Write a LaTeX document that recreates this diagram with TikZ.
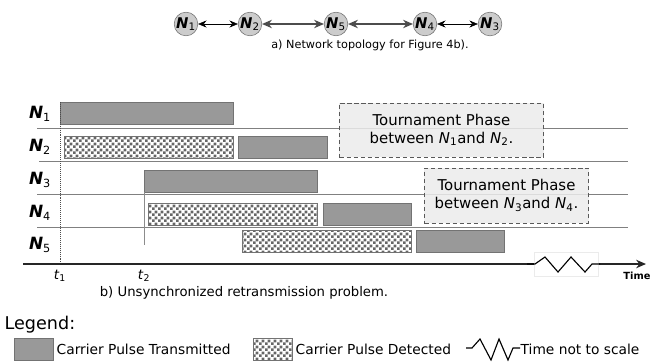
\documentclass[tikz,border=0pt]{standalone}
\usepackage{fontspec}
\setmainfont{DejaVu Sans}
\usetikzlibrary{positioning,calc,arrows.meta,patterns.meta}
\tikzset{font=\small}

\newcommand{\fs}[1]{\fontsize{#1}{1.2\dimexpr#1pt\relax}\selectfont}
\newcommand{\nid}[1]{\textbf{\textit{N}}\textsubscript{\mdseries\upshape #1}}
\newcommand{\nit}[1]{\textit{N}\textsubscript{#1}}

\tikzdeclarepattern{
	name=finecheck, type=uncolored,
	bounding box={(0pt,0pt) and (4pt,4pt)},
	tile size={(4pt,4pt)},
	code={
		\fill (0pt,0pt) rectangle (2pt,2pt);
		\fill (2pt,2pt) rectangle (4pt,4pt);
	}
}

\begin{document}
\begin{tikzpicture}[x=0.025cm, y=-0.025cm]
	\useasboundingbox (0,0) rectangle (651,362);
	\tikzstyle{every node}=[align=center, inner sep=1pt]
	\tikzset{
		topo/.style={circle, draw=black!55, fill=black!20, minimum size=0.58cm, inner sep=0pt, font=\fs{10.5}},
		rowlab/.style={font=\fs{12}},
		thinlink/.style={{Stealth[length=6pt,width=5pt]}-{Stealth[length=6pt,width=5pt]}, black},
		widelink/.style={{Stealth[length=7pt,width=6pt]}-{Stealth[length=7pt,width=6pt]}, black!70, line width=0.9pt},
		txbar/.style={draw=black!55, fill=black!40},
		detbar/.style={draw=black!55, pattern={finecheck}, pattern color=black!60},
		sep/.style={black!50, line width=0.4pt},
		phase/.style={draw=black!65, densely dashed, fill=black!8, fill opacity=0.85, text opacity=1, font=\fs{10.6}},
		zig/.style={black, line width=0.8pt},
		legtext/.style={anchor=west, font=\fs{9.8}}
	}

	% a) topology
	\node[topo] (n1) at (186, 24) {\nid{1}};
	\node[topo] (n2) at (250, 24) {\nid{2}};
	\node[topo] (n5) at (336, 24) {\nid{5}};
	\node[topo] (n4) at (425, 24) {\nid{4}};
	\node[topo] (n3) at (490, 24) {\nid{3}};

	\draw [thinlink] (n1) to (n2);
	\draw [widelink] (n2) to (n5);
	\draw [widelink] (n5) to (n4);
	\draw [thinlink] (n4) to (n3);

	\node[font=\fs{8}] (capa) at (370, 45) {a) Network topology for Figure 4b).};

	% b) timeline
	\node[rowlab] (l1) at (40, 114) {\nid{1}};
	\node[rowlab] (l2) at (40, 147) {\nid{2}};
	\node[rowlab] (l3) at (40, 180) {\nid{3}};
	\node[rowlab] (l4) at (40, 213) {\nid{4}};
	\node[rowlab] (l5) at (40, 245) {\nid{5}};

	\draw [sep] (37, 128) -- (628, 128);
	\draw [sep] (39, 161) -- (628, 161);
	\draw [sep] (37, 194) -- (628, 194);
	\draw [sep] (37, 227) -- (628, 227);

	\node[phase, minimum width=5.1cm, minimum height=1.35cm] (tp1) at (441.5, 130) {Tournament Phase\\between \nit{1}and \nit{2}.};
	\node[phase, minimum width=4.1cm, minimum height=1.375cm] (tp2) at (506.5, 195.5) {Tournament Phase\\between \nit{3}and \nit{4}.};

	\draw [txbar] (60, 102) rectangle (233, 124);
	\draw [detbar] (64, 136) rectangle (233, 158);
	\draw [txbar] (238, 136) rectangle (327, 158);
	\draw [txbar] (144, 170) rectangle (317, 192);
	\draw [detbar] (148, 203) rectangle (317, 225);
	\draw [txbar] (323, 203) rectangle (411, 225);
	\draw [detbar] (242, 230) rectangle (411, 252);
	\draw [txbar] (416, 230) rectangle (504, 252);

	\draw [black!70, densely dotted] (60, 102) -- (60, 264);
	\draw [black!45] (144, 192) -- (144, 245);

	\coordinate (ax0) at (23, 264);
	\coordinate (ax1) at (646, 264);
	\draw [-{Stealth[length=7pt,width=6pt]}, line width=1.4pt, black!85] (ax0) -- (ax1);
	\fill [white, draw=black!8] (534, 252) rectangle (598, 276);
	\draw [zig] (527, 264) -- (535, 264) -- (545, 257) -- (558, 272) -- (571, 257) -- (585, 272) -- (592, 264) -- (600, 264);
	\node[font=\fs{7}\bfseries] (time) at (637, 276) {Time};

	\node[font=\fs{9.5}] (t1) at (60, 276) {\textit{t}\textsubscript{1}};
	\node[font=\fs{9.5}] (t2) at (144, 276) {\textit{t}\textsubscript{2}};

	\node[font=\fs{9.4}] (capb) at (244, 293) {b) Unsynchronized retransmission problem.};

	% legend
	\node[anchor=west, font=\fs{12.5}] (leg) at (3, 325) {Legend:};
	\draw [txbar] (14, 338) rectangle (53, 360);
	\node[legtext] (legtx) at (55, 349) {Carrier Pulse Transmitted};
	\draw [detbar] (253, 338) rectangle (292, 360);
	\node[legtext] (legdet) at (294, 349) {Carrier Pulse Detected};
	\draw [zig] (466, 348) -- (472, 348) -- (480, 339) -- (491, 360) -- (499, 339) -- (508, 360) -- (513, 348) -- (520, 348);
	\node[legtext] (legts) at (519, 349) {Time not to scale};
\end{tikzpicture}
\end{document}
